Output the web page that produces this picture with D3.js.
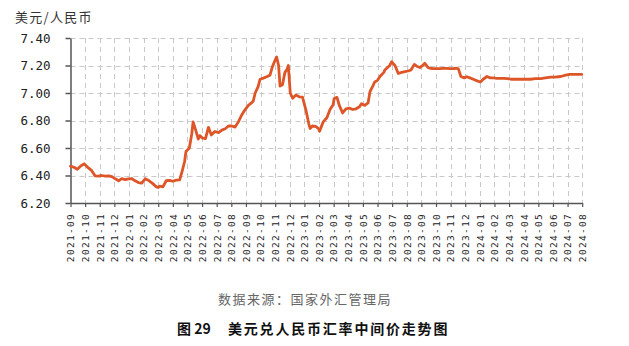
<!DOCTYPE html>
<html>
<head>
<meta charset="utf-8">
<script src="https://cdn.jsdelivr.net/npm/d3@7"></script>
<style>
  html, body { margin: 0; padding: 0; background: #fff; }
  svg { display: block; }
</style>
</head>
<body>
<svg id="chart" width="629" height="346"></svg>
<script>
// Month tick labels along the x axis
const months = [
  "2021-09","2021-10","2021-11","2021-12",
  "2022-01","2022-02","2022-03","2022-04","2022-05","2022-06","2022-07","2022-08","2022-09","2022-10","2022-11","2022-12",
  "2023-01","2023-02","2023-03","2023-04","2023-05","2023-06","2023-07","2023-08","2023-09","2023-10","2023-11","2023-12",
  "2024-01","2024-02","2024-03","2024-04","2024-05","2024-06","2024-07","2024-08"
];

// Y axis tick values
const yTicks = [6.20, 6.40, 6.60, 6.80, 7.00, 7.20, 7.40];

// USD/CNY central parity observations
const dates = [
  "2021-09-01","2021-09-08","2021-09-15","2021-09-22","2021-09-29",
  "2021-10-08","2021-10-15","2021-10-22","2021-10-29",
  "2021-11-05","2021-11-12","2021-11-19","2021-11-26",
  "2021-12-03","2021-12-10","2021-12-17","2021-12-24","2021-12-31",
  "2022-01-07","2022-01-14","2022-01-21","2022-01-28",
  "2022-02-04","2022-02-11","2022-02-18","2022-02-25",
  "2022-03-01","2022-03-04","2022-03-11","2022-03-18","2022-03-25",
  "2022-04-01","2022-04-08","2022-04-15","2022-04-20","2022-04-25","2022-04-28",
  "2022-05-05","2022-05-10","2022-05-13","2022-05-18","2022-05-24","2022-05-27",
  "2022-06-02","2022-06-08","2022-06-14","2022-06-20","2022-06-27",
  "2022-07-05","2022-07-12","2022-07-19","2022-07-26",
  "2022-08-02","2022-08-09","2022-08-16","2022-08-23","2022-08-30",
  "2022-09-06","2022-09-13","2022-09-16","2022-09-20","2022-09-26","2022-09-30",
  "2022-10-07","2022-10-14","2022-10-21","2022-10-26",
  "2022-11-01","2022-11-04","2022-11-08","2022-11-11","2022-11-16","2022-11-21","2022-11-25","2022-11-28",
  "2022-12-02","2022-12-07","2022-12-14","2022-12-21","2022-12-28",
  "2023-01-05","2023-01-10","2023-01-13","2023-01-18","2023-01-26","2023-01-31",
  "2023-02-02","2023-02-09","2023-02-16","2023-02-22","2023-02-28",
  "2023-03-02","2023-03-08","2023-03-13","2023-03-20","2023-03-27",
  "2023-04-03","2023-04-10","2023-04-17","2023-04-24","2023-04-28",
  "2023-05-05","2023-05-12","2023-05-16","2023-05-22","2023-05-26",
  "2023-06-01","2023-06-06","2023-06-14","2023-06-16","2023-06-26","2023-06-30",
  "2023-07-04","2023-07-07","2023-07-14","2023-07-21","2023-07-28",
  "2023-08-04","2023-08-10","2023-08-17","2023-08-22","2023-08-29",
  "2023-09-05","2023-09-08","2023-09-15","2023-09-19","2023-09-26",
  "2023-10-09","2023-10-16","2023-10-23","2023-10-31",
  "2023-11-06","2023-11-13","2023-11-17","2023-11-22","2023-11-29",
  "2023-12-04","2023-12-11","2023-12-18","2023-12-25",
  "2024-01-02","2024-01-08","2024-01-16","2024-01-23","2024-01-30",
  "2024-02-06","2024-02-20","2024-02-27",
  "2024-03-05","2024-03-15","2024-03-25",
  "2024-04-03","2024-04-15","2024-04-25",
  "2024-05-06","2024-05-16","2024-05-27",
  "2024-06-05","2024-06-17","2024-06-27",
  "2024-07-05","2024-07-15","2024-07-25","2024-07-31"
];
const rates = [
  6.468,6.460,6.445,6.469,6.485,
  6.455,6.435,6.398,6.396,
  6.400,6.395,6.398,6.392,
  6.376,6.362,6.377,6.370,6.376,
  6.378,6.361,6.349,6.345,
  6.376,6.363,6.343,6.319,
  6.312,6.323,6.318,6.362,6.365,
  6.358,6.366,6.368,6.430,6.500,6.575,
  6.600,6.700,6.790,6.735,6.665,6.690,
  6.672,6.668,6.750,6.695,6.720,
  6.712,6.730,6.740,6.760,
  6.760,6.752,6.790,6.840,6.878,
  6.910,6.930,6.942,7.000,7.046,7.100,
  7.108,7.118,7.130,7.190,
  7.240,7.262,7.200,7.050,7.060,7.150,7.170,7.200,
  7.000,6.962,6.985,6.972,6.970,
  6.864,6.780,6.742,6.760,6.755,6.740,
  6.722,6.790,6.820,6.880,6.915,
  6.960,6.968,6.910,6.855,6.885,
  6.890,6.880,6.885,6.900,6.922,
  6.910,6.928,7.010,7.050,7.080,
  7.092,7.120,7.150,7.167,7.200,7.228,
  7.210,7.200,7.142,7.150,7.155,
  7.160,7.167,7.208,7.195,7.185,
  7.205,7.216,7.185,7.180,7.178,
  7.178,7.179,7.179,7.178,
  7.178,7.180,7.175,7.120,7.110,
  7.118,7.110,7.100,7.090,
  7.080,7.100,7.120,7.110,7.110,
  7.107,7.107,7.105,
  7.100,7.100,7.100,
  7.100,7.100,7.105,
  7.105,7.110,7.115,
  7.115,7.120,7.130,
  7.135,7.135,7.136,7.136
];

// Convert a date to a fractional month position (0 = first month on the axis)
function monthPos(s) {
  const [yy, mm, dd] = s.split("-").map(Number);
  const dim = new Date(yy, mm, 0).getDate();
  return (yy - 2021) * 12 + (mm - 9) + (dd - 1) / dim;
}

const series = dates.map((d, i) => ({ pos: monthPos(d), value: rates[i] }));

const svg = d3.select("#chart");
const plotLeft = 70.5, plotRight = 582.2, plotTop = 38, plotBottom = 203;

const x = d3.scaleLinear().domain([0, months.length - 1]).range([plotLeft, plotRight]);
const y = d3.scaleLinear().domain([6.2, 7.4]).range([plotBottom, plotTop]);

const gridColor = "#c9c9c9";
const axisColor = "#555";

// Dashed grid
const grid = svg.append("g");
grid.selectAll("line.h")
  .data(yTicks.filter(v => v > 6.2))
  .join("line")
  .attr("class", "h")
  .attr("x1", plotLeft).attr("x2", plotRight)
  .attr("y1", d => Math.round(y(d)) + 0.5).attr("y2", d => Math.round(y(d)) + 0.5)
  .attr("stroke", gridColor).attr("stroke-width", 1)
  .attr("stroke-dasharray", "5,4");
grid.selectAll("line.v")
  .data(d3.range(1, months.length))
  .join("line")
  .attr("class", "v")
  .attr("x1", d => Math.round(x(d)) + 0.5).attr("x2", d => Math.round(x(d)) + 0.5)
  .attr("y1", plotTop).attr("y2", plotBottom)
  .attr("stroke", gridColor).attr("stroke-width", 1)
  .attr("stroke-dasharray", "5,4");

// Y axis
const yAxis = svg.append("g")
  .attr("transform", `translate(${plotLeft},0)`)
  .call(d3.axisLeft(y).tickValues(yTicks).tickFormat(d3.format(".2f"))
    .tickSize(5).tickSizeOuter(0).tickPadding(15));
yAxis.select(".domain").attr("stroke", axisColor).attr("stroke-width", 1.5);
yAxis.selectAll(".tick line").attr("stroke", axisColor).attr("stroke-width", 1.5);
yAxis.selectAll(".tick text")
  .attr("fill", "#222")
  .style("font-family", "'DejaVu Sans Mono', monospace")
  .style("font-size", "12.5px");

// X axis
const xAxis = svg.append("g")
  .attr("transform", `translate(0,${plotBottom})`)
  .call(d3.axisBottom(x).tickValues(d3.range(months.length)).tickFormat(i => months[i])
    .tickSize(4).tickSizeOuter(0));
xAxis.select(".domain").attr("stroke", axisColor).attr("stroke-width", 1.5);
xAxis.selectAll(".tick line").attr("stroke", axisColor).attr("stroke-width", 1.2);
xAxis.selectAll(".tick text")
  .attr("transform", "rotate(-90)")
  .attr("x", -10).attr("y", 0).attr("dy", "0.35em")
  .attr("text-anchor", "end")
  .attr("fill", "#222")
  .style("font-family", "'DejaVu Sans Mono', monospace")
  .style("font-size", "9.5px")
  .style("letter-spacing", "1.3px");

// Rate line
svg.append("path")
  .datum(series)
  .attr("fill", "none")
  .attr("stroke", "#de5527")
  .attr("stroke-width", 2.8)
  .attr("stroke-linejoin", "round")
  .attr("stroke-linecap", "round")
  .attr("d", d3.line().x(d => x(d.pos)).y(d => y(d.value)));

// Unit label
svg.append("text")
  .attr("x", 15).attr("y", 22)
  .attr("fill", "#333")
  .style("font-family", "'Noto Sans CJK SC', sans-serif")
  .style("font-size", "13px")
  .style("letter-spacing", "1.3px")
  .text("美元/人民币");

// Source note
svg.append("text")
  .attr("x", 305).attr("y", 304)
  .attr("text-anchor", "middle")
  .attr("fill", "#666")
  .style("font-family", "'Noto Sans CJK SC', sans-serif")
  .style("font-size", "13px")
  .style("letter-spacing", "1.5px")
  .text("数据来源：国家外汇管理局");

// Figure caption
const cap = svg.append("text")
  .attr("y", 334)
  .attr("fill", "#111")
  .style("font-family", "'Noto Sans CJK SC', sans-serif")
  .style("font-size", "14px")
  .style("font-weight", "bold");
cap.append("tspan").attr("x", 177).text("图 29");
cap.append("tspan").attr("x", 228).style("letter-spacing", "1.8px").text("美元兑人民币汇率中间价走势图");
</script>
</body>
</html>
